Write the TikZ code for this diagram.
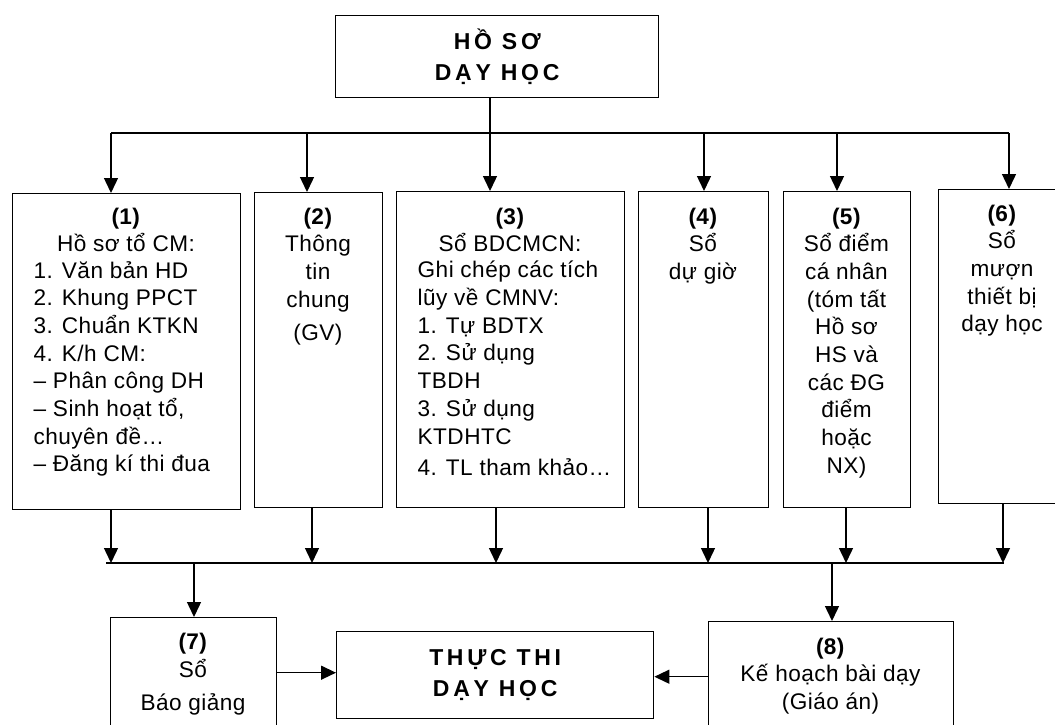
\documentclass[tikz,border=0pt]{standalone}
\usepackage{fontspec}
\setmainfont{Liberation Sans}[LetterSpace=2]
\newfontfamily\titlefont{Liberation Sans}[LetterSpace=16]
\usetikzlibrary{arrows.meta}

\begin{document}
\begin{tikzpicture}[x=1pt, y=-1pt, line width=1.4pt,
	box/.style = {draw, inner sep=0pt, anchor=north west},
	txt/.style = {font=\fontsize{22.6}{27.7}\selectfont, inner sep=0pt, anchor=north, align=center},
	lst/.style = {txt, anchor=north west, align=left},
	ttl/.style = {font=\titlefont\bfseries\fontsize{23}{31}\selectfont, align=center},
	arr/.style = {-{Triangle[width=14pt,length=15pt]}}]
	\useasboundingbox (0,0) rectangle (1055,724);
	\clip (0,0) rectangle (1055,724);
	
	% draw boxes
	\node [box, ttl, minimum width=323pt, minimum height=82pt] (top) at (335,15) {HỒ SƠ\\DẠY HỌC};
	\node [box, minimum width=228pt, minimum height=316pt] (b1) at (12,193) {};
	\node [box, minimum width=128pt, minimum height=315pt] (b2) at (254,192) {};
	\node [box, minimum width=228pt, minimum height=316pt] (b3) at (396,191) {};
	\node [box, minimum width=130pt, minimum height=316pt] (b4) at (638,191) {};
	\node [box, minimum width=127pt, minimum height=316pt] (b5) at (783,191) {};
	\node [box, minimum width=128pt, minimum height=314pt] (b6) at (938,189) {};
	\node [box, minimum width=166pt, minimum height=130pt] (b7) at (110,617) {};
	\node [box, minimum width=245pt, minimum height=130pt] (b8) at (708,621) {};
	\node [box, ttl, minimum width=317pt, minimum height=87pt] (mid) at (336,631) {THỰC THI\\DẠY HỌC};
	
	% write texts in boxes
	\node [txt] (h1) at (126,207) {\textbf{(1)}\\Hồ sơ tổ CM:};
	\node [lst] (l1) at (33,260.5) {1. Văn bản HD\\2. Khung PPCT\\3. Chuẩn KTKN\\4. K/h CM:\\– Phân công DH\\– Sinh hoạt tổ,\\chuyên đề…\\– Đăng kí thi đua};
	\node [txt] (n2) at (318,207) {\textbf{(2)}\\Thông\\tin\\chung\\[6pt](GV)};
	\node [txt] (h3) at (510,207) {\textbf{(3)}\\Sổ BDCMCN:};
	\node [lst] (l3) at (417,260.5) {Ghi chép các tích\\lũy về CMNV:\\1. Tự BDTX\\2. Sử dụng\\TBDH\\3. Sử dụng\\KTDHTC\\[4pt]4. TL tham khảo…};
	\node [txt] (n4) at (703,207) {\textbf{(4)}\\Sổ\\dự giờ};
	\node [txt] (n5) at (846.5,207) {\textbf{(5)}\\Sổ điểm\\cá nhân\\(tóm tất\\Hồ sơ\\HS và\\các ĐG\\điểm\\hoặc\\NX)};
	\node [txt] (n6) at (1002,204) {\textbf{(6)}\\Sổ\\mượn\\thiết bị\\dạy học};
	\node [txt] (n7) at (193,632) {\textbf{(7)}\\[1pt]Sổ\\[5pt]Báo giảng};
	\node [txt] (n8) at (830.5,637) {\textbf{(8)}\\Kế hoạch bài dạy\\(Giáo án)};
	
	% upper lines
	\coordinate (bus1) at (490,133);
	\draw (top.south -| bus1) -- (bus1);
	\draw (111,133) coordinate (busa) -- (1009,133) coordinate (busb);
	\foreach \i/\x in {1/111, 2/307, 3/490, 4/704, 5/837, 6/1009} {
		\coordinate (up\i) at (\x,133);
		\draw [arr] (up\i) -- (up\i |- b\i.north);
	}
	
	% lower lines
	\draw (106,563) coordinate (busc) -- (1004,563) coordinate (busd);
	\foreach \i/\x in {1/111, 2/312, 3/496, 4/708, 5/846, 6/1003} {
		\coordinate (dn\i) at (\x,563);
		\draw [arr] (dn\i |- b\i.south) -- (dn\i);
	}
	\coordinate (m7) at (194,563);
	\coordinate (m8) at (832,563);
	\draw [arr] (m7) -- (m7 |- b7.north);
	\draw [arr] (m8) -- (m8 |- b8.north);
	
	% into the last box
	\draw [arr] ([yshift=2.5pt]mid.west -| b7.east) -- ([yshift=2.5pt]mid.west);
	\draw [arr] ([yshift=-1.5pt]mid.east -| b8.west) -- ([yshift=-1.5pt]mid.east);
\end{tikzpicture}
\end{document}
